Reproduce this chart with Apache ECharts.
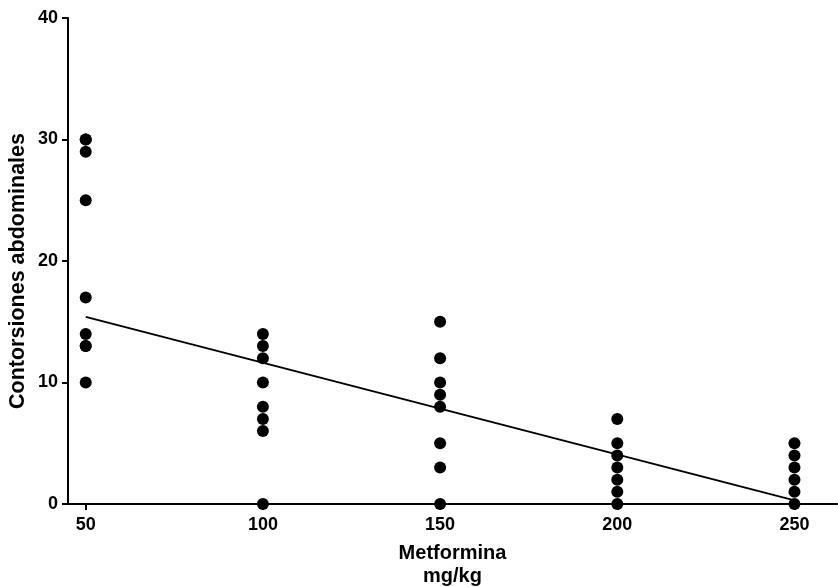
<!DOCTYPE html>
<html>
<head>
<meta charset="utf-8">
<script src="https://cdn.jsdelivr.net/npm/echarts@6/dist/echarts.min.js"></script>
<style>
html,body{margin:0;padding:0;background:#fff;}
#c{width:838px;height:587px;}
</style>
</head>
<body>
<div id="c"></div>
<script>
// Data
const doses = [50, 100, 150, 200, 250];
const responses50 = [30, 30, 29, 25, 17, 14, 13, 13, 10];
const responses100 = [14, 13, 12, 10, 8, 7, 6, 0];
const responses150 = [15, 12, 10, 9, 8, 5, 3, 0];
const responses200 = [7, 5, 4, 3, 2, 1, 0];
const responses250 = [5, 4, 3, 2, 1, 0];
const fitX = [50, 250];
const fitY = [15.4, 0.3];
const xTicks = [50, 100, 150, 200, 250];
const yTicks = [0, 10, 20, 30, 40];

const groups = [responses50, responses100, responses150, responses200, responses250];
const points = [];
groups.forEach((g, i) => g.forEach(v => points.push([doses[i], v])));
const fitLine = fitX.map((x, i) => [x, fitY[i]]);

const font = 'Liberation Sans, Arial, sans-serif';
const chart = echarts.init(document.getElementById('c'));
chart.setOption({
  animation: false,
  backgroundColor: '#fff',
  grid: { left: 68, right: 1, top: 18, bottom: 83, containLabel: false, outerBoundsMode: 'none' },
  xAxis: {
    type: 'value', min: 45, max: 262,
    splitLine: { show: false },
    axisLine: { show: true, onZero: false, lineStyle: { color: '#000', width: 2 } },
    axisTick: { show: true, length: 6, lineStyle: { color: '#000', width: 2 }, customValues: xTicks },
    axisLabel: { color: '#000', fontFamily: font, fontWeight: 'bold', fontSize: 18, margin: 12, customValues: xTicks },
    name: 'Metformina\nmg/kg', nameLocation: 'middle', nameGap: 38, nameMoveOverlap: false,
    nameTextStyle: { color: '#000', fontFamily: font, fontWeight: 'bold', fontSize: 20, lineHeight: 23 }
  },
  yAxis: {
    type: 'value', min: 0, max: 40, interval: 10,
    splitLine: { show: false },
    axisLine: { show: true, onZero: false, lineStyle: { color: '#000', width: 2 } },
    axisTick: { show: true, length: 6, lineStyle: { color: '#000', width: 2 } },
    axisLabel: { color: '#000', fontFamily: font, fontWeight: 'bold', fontSize: 18, margin: 10,
      customValues: yTicks },
    name: 'Contorsiones abdominales', nameLocation: 'middle', nameGap: 39, nameRotate: 90, nameMoveOverlap: false,
    nameTextStyle: { color: '#000', fontFamily: font, fontWeight: 'bold', fontSize: 21.5, padding: [0, 20, 0, 0] }
  },
  series: [
    {
      type: 'line', data: fitLine, symbol: 'none',
      lineStyle: { color: '#000', width: 2 }, z: 2
    },
    {
      type: 'scatter', data: points, symbol: 'circle', symbolSize: 12,
      itemStyle: { color: '#000', opacity: 1 }, z: 3, clip: false
    }
  ]
});
</script>
</body>
</html>
